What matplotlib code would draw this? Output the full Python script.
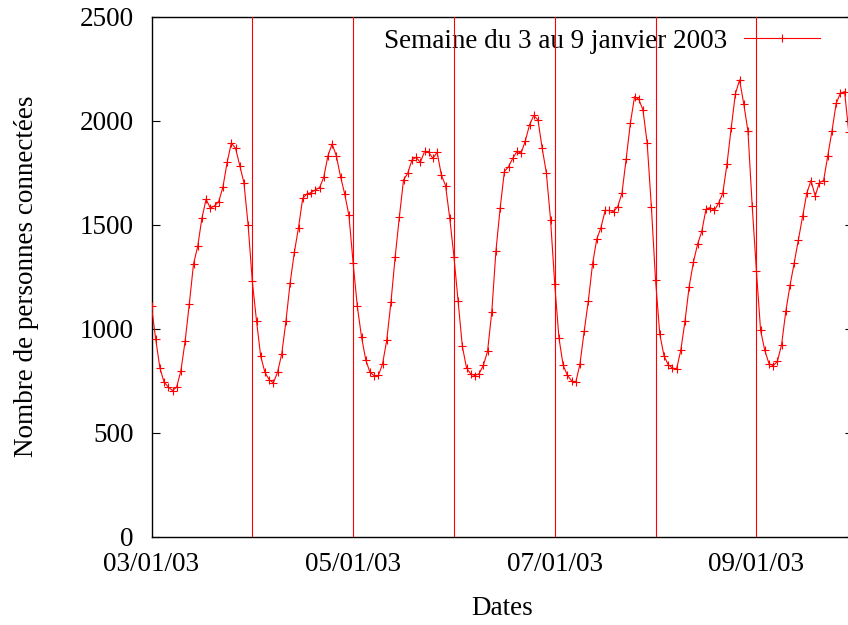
import matplotlib
matplotlib.use("Agg")
import matplotlib.pyplot as plt
import matplotlib.dates as mdates
import pandas as pd

plt.rcParams['font.family'] = ['Liberation Serif', 'DejaVu Serif']

start = "2003-01-03 00:00"
connectes = [
    1107, 950, 811, 742, 720, 702, 720, 798, 939, 1119, 1311, 1396, 1532, 1623, 1580, 1591,
    1612, 1681, 1800, 1893, 1869, 1785, 1703, 1499,
    1228, 1038, 867, 790, 755, 739, 790, 878, 1035, 1220, 1367, 1487, 1628, 1649, 1655, 1668,
    1679, 1728, 1832, 1889, 1832, 1732, 1648, 1545,
    1316, 1107, 960, 851, 790, 774, 775, 830, 944, 1127, 1343, 1537, 1716, 1748, 1812, 1825,
    1800, 1853, 1848, 1820, 1849, 1740, 1689, 1532,
    1347, 1131, 915, 811, 782, 774, 784, 824, 891, 1079, 1375, 1580, 1756, 1780, 1820, 1853,
    1845, 1905, 1981, 2026, 2005, 1869, 1750, 1524,
    1213, 955, 824, 776, 750, 742, 830, 987, 1135, 1312, 1431, 1487, 1569, 1569, 1564, 1588,
    1652, 1817, 1989, 2117, 2104, 2053, 1893, 1587,
    1232, 974, 870, 827, 811, 806, 896, 1035, 1203, 1319, 1407, 1468, 1575, 1583, 1569, 1604,
    1652, 1792, 1965, 2130, 2197, 2081, 1949, 1592,
    1280, 992, 896, 832, 822, 843, 923, 1083, 1208, 1316, 1428, 1540, 1652, 1713, 1639, 1703,
    1713, 1832, 1952, 2085, 2133, 2141, 1946, 1700,
]
dates = pd.date_range(start, periods=len(connectes), freq="h")
jours = pd.date_range("2003-01-04", periods=6, freq="D")
tick_dates = pd.date_range("2003-01-03", periods=4, freq="2D")
y_ticks = [0, 500, 1000, 1500, 2000, 2500]
legend_label = "Semaine du 3 au 9 janvier 2003"

FS = 19.5
W, H = 848, 625
fig = plt.figure(figsize=(W / 100, H / 100), dpi=100)
left, right, top, bottom = 151.5, 853, 17, 536.5
ax = fig.add_axes([left / W, (H - bottom) / H, (right - left) / W, (bottom - top) / H])

for d in jours:
    ax.axvline(d, color="#ff0000", lw=0.8, zorder=3)

ax.plot(dates, connectes, color="#ff0000", lw=0.8, marker="+", markersize=6,
        markeredgewidth=0.8, label=legend_label, zorder=4)

ax.set_xlim(dates[0], dates[-1])
ax.set_ylim(0, 2500)
ax.set_yticks(y_ticks)
ax.set_xticks(tick_dates)
ax.xaxis.set_major_formatter(mdates.DateFormatter("%d/%m/%y"))

ax.tick_params(axis="y", direction="in", length=5.8, width=0.8, labelsize=FS,
               pad=13, right=True, left=True)
ax.tick_params(axis="x", direction="in", length=0, labelsize=FS, pad=11)
for s in ax.spines.values():
    s.set_linewidth(1.0)

ax.set_xlabel("Dates", fontsize=FS, labelpad=14)
ax.set_ylabel("Nombre de personnes connectées", fontsize=FS, labelpad=29)

leg = ax.legend(loc="center right", bbox_to_anchor=(820 / W, (H - 41) / H),
                bbox_transform=fig.transFigure, frameon=False, markerfirst=False,
                numpoints=1, handlelength=2.8, handletextpad=0.63, borderpad=0,
                borderaxespad=0, fontsize=FS)
leg.set_zorder(1)

fig.savefig("out.png", dpi=100)
